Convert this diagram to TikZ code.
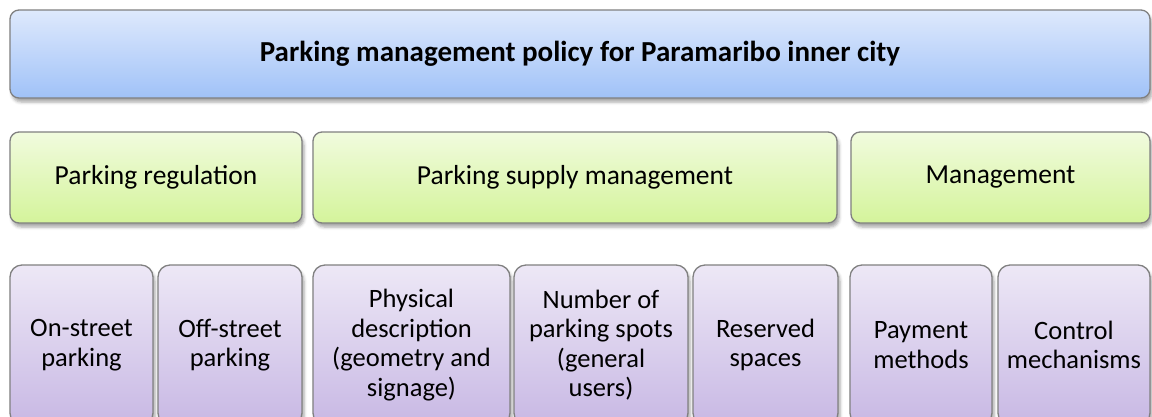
\documentclass[tikz,border=0pt]{standalone}
\usepackage{fontspec}
\setmainfont{Carlito}
\usetikzlibrary{shadows.blur}
\definecolor{titletop}{RGB}{222,233,252}
\definecolor{titlebot}{RGB}{160,194,248}
\definecolor{grouptop}{RGB}{241,251,222}
\definecolor{groupbot}{RGB}{212,244,155}
\definecolor{itemtop}{RGB}{237,232,246}
\definecolor{itembot}{RGB}{200,184,228}
\definecolor{edge}{RGB}{128,128,128}
\begin{document}
\begin{tikzpicture}[x=1pt,y=-1pt,
  box/.style={draw=edge, line width=1.3pt, rounded corners=9pt, align=center,
    inner sep=2pt, text=black,
    blur shadow={shadow xshift=2pt, shadow yshift=-4pt, shadow blur radius=3pt, shadow opacity=35}},
  titlebox/.style={box, top color=titletop, bottom color=titlebot,
    minimum width=1140pt, minimum height=88pt, font=\bfseries\fontsize{29}{34}\selectfont},
  groupbox/.style={box, top color=grouptop, bottom color=groupbot,
    minimum height=91pt, font=\fontsize{27.5}{32}\selectfont},
  itembox/.style={box, rounded corners=12pt, top color=itemtop, bottom color=itembot,
    minimum height=160pt, font=\fontsize{26.5}{29.5}\selectfont}
]
\useasboundingbox (0,0) rectangle (1152,416);
\clip (0,0) rectangle (1152,416);

% policy
\node[titlebox] (policy) at (580,54) {Parking management policy for Paramaribo inner city};

% policy areas
\node[groupbox, minimum width=292pt] (reg) at (156,177.5) {Parking regulation};
\node[groupbox, minimum width=524pt] (supply) at (575,177.5) {Parking supply management};
\node[groupbox, minimum width=299pt] (mgmt) at (1000.5,177.5) {Management};

% measures
\node[itembox, minimum width=143pt] (onstreet) at (81.5,345) {On-street\\parking};
\node[itembox, minimum width=144pt] (offstreet) at (230,345) {Off-street\\parking};
\node[itembox, minimum width=197pt] (physical) at (411.5,345) {Physical\\description\\(geometry and\\signage)};
\node[itembox, minimum width=174pt] (spots) at (601,345) {Number of\\parking spots\\(general\\users)};
\node[itembox, minimum width=145pt] (reserved) at (765.5,345) {Reserved\\spaces};
\node[itembox, minimum width=142pt] (payment) at (921,345) {Payment\\methods};
\node[itembox, minimum width=152pt] (control) at (1074,345) {Control\\mechanisms};
\end{tikzpicture}
\end{document}
